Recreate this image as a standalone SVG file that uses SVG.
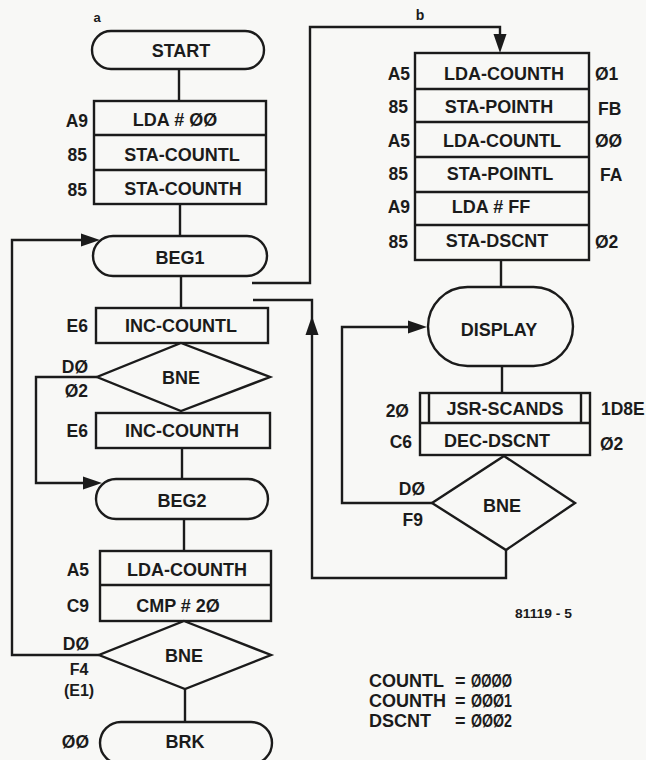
<svg xmlns="http://www.w3.org/2000/svg" xmlns:xlink="http://www.w3.org/1999/xlink" width="646" height="760" viewBox="0 0 646 760">
<style>
.s{fill:none;stroke:#1b1b1b;stroke-width:2.4}
.b{fill:#f8f8f6;stroke:#1b1b1b;stroke-width:2.4}
text{font-family:"Liberation Sans",Arial,sans-serif;font-weight:bold;fill:#1b1b1b}
.t{font-size:18px;text-anchor:middle}
.l{font-size:17.5px;text-anchor:end}
.r{font-size:17.5px;text-anchor:start}
.c{font-size:16px;text-anchor:middle}
.v{font-size:18px}
</style>
<defs>
<path id="ah" d="M0,0 L-19,-6.5 L-19,6.5 Z" fill="#1b1b1b"/>
</defs>
<rect width="646" height="760" fill="#f8f8f6"/>

<g id="connectors">
<path class="s" d="M179,69 V101"/>
<path class="s" d="M180,204 V236"/>
<path class="s" d="M181,276 V308"/>
<path class="s" d="M182,448 V479"/>
<path class="s" d="M184,519 V551"/>
<path class="s" d="M185,689 V722"/>
<path class="s" d="M97,377 H36 V483 H90"/>
<path class="s" d="M99,655 H12 V240 H88"/>
<path class="s" d="M252,283 H310 V27 H500 V40"/>
<path class="s" d="M501,260 V287"/>
<path class="s" d="M502,366 V393"/>
<path class="s" d="M432,503 H342 V327 H415"/>
<path class="s" d="M506,550 V578 H312 V300 H253"/>
<use xlink:href="#ah" transform="translate(100,240)"/>
<use xlink:href="#ah" transform="translate(102,483)"/>
<use xlink:href="#ah" transform="translate(500,53) rotate(90)"/>
<use xlink:href="#ah" transform="translate(312,316) rotate(-90)"/>
<use xlink:href="#ah" transform="translate(427,327)"/>
</g>

<text x="97" y="22" style="font-size:13px;text-anchor:middle">a</text>
<text x="420" y="20" style="font-size:14px;text-anchor:middle">b</text>

<g id="start">
<rect class="b" x="92" y="31" width="172" height="38" rx="19"/>
<text class="t" x="181" y="57">START</text>
</g>

<g id="init">
<rect class="b" x="94" y="101" width="172" height="103"/>
<path class="s" d="M94,135 H266 M94,170 H266"/>
<text class="t" x="175" y="126">LDA # ØØ</text>
<text class="t" x="182" y="161">STA-COUNTL</text>
<text class="t" x="183" y="195">STA-COUNTH</text>
<text class="l" x="88" y="127">A9</text>
<text class="l" x="87" y="161">85</text>
<text class="l" x="87" y="196">85</text>
</g>

<g id="beg1">
<rect class="b" x="93" y="236" width="174" height="40" rx="20"/>
<text class="t" x="180" y="264">BEG1</text>
</g>

<g id="inc-countl">
<rect class="b" x="96" y="308" width="172" height="35"/>
<text class="t" x="181" y="332">INC-COUNTL</text>
<text class="l" x="88" y="332">E6</text>
</g>

<g id="bne1">
<polygon class="b" points="181,343 270,377 181,411 97,377"/>
<text class="t" x="181" y="384">BNE</text>
<text class="l" x="88" y="373">DØ</text>
<text class="l" x="88" y="397">Ø2</text>
</g>

<g id="inc-counth">
<rect class="b" x="96" y="413" width="174" height="35"/>
<text class="t" x="182" y="437">INC-COUNTH</text>
<text class="l" x="88" y="437">E6</text>
</g>

<g id="beg2">
<rect class="b" x="96" y="479" width="172" height="40" rx="20"/>
<text class="t" x="182" y="507">BEG2</text>
</g>

<g id="compare">
<rect class="b" x="100" y="551" width="171" height="70"/>
<path class="s" d="M100,585 H271"/>
<text class="t" x="187" y="576">LDA-COUNTH</text>
<text class="t" x="178" y="612">CMP # 2Ø</text>
<text class="l" x="89" y="576">A5</text>
<text class="l" x="89" y="612">C9</text>
</g>

<g id="bne2">
<polygon class="b" points="184,621 271,655 185,689 99,655"/>
<text class="t" x="184" y="662">BNE</text>
<text class="l" x="89" y="650">DØ</text>
<text class="c" x="79" y="675">F4</text>
<text class="c" x="79" y="696">(E1)</text>
</g>

<g id="brk">
<rect class="b" x="100" y="722" width="172" height="42" rx="21"/>
<text class="t" x="185" y="748">BRK</text>
<text class="l" x="89" y="748">ØØ</text>
</g>

<g id="setup">
<rect class="b" x="415" y="53" width="174" height="207"/>
<path class="s" d="M415,89 H589 M415,122 H589 M415,157 H589 M415,192 H589 M415,225 H589"/>
<text class="t" x="504" y="80">LDA-COUNTH</text>
<text class="t" x="499" y="113">STA-POINTH</text>
<text class="t" x="502" y="147">LDA-COUNTL</text>
<text class="t" x="500" y="180">STA-POINTL</text>
<text class="t" x="491" y="213">LDA # FF</text>
<text class="t" x="497" y="247">STA-DSCNT</text>
<text class="l" x="410" y="80">A5</text>
<text class="l" x="408" y="113">85</text>
<text class="l" x="410" y="147">A5</text>
<text class="l" x="408" y="180">85</text>
<text class="l" x="410" y="213">A9</text>
<text class="l" x="408" y="248">85</text>
<text class="r" x="595" y="80">Ø1</text>
<text class="r" x="598" y="115">FB</text>
<text class="r" x="595" y="147">ØØ</text>
<text class="r" x="600" y="181">FA</text>
<text class="r" x="595" y="248">Ø2</text>
</g>

<g id="display">
<rect class="b" x="428" y="287" width="145" height="79" rx="39.5"/>
<text class="t" x="499" y="336">DISPLAY</text>
</g>

<g id="scan">
<rect class="b" x="420" y="393" width="170" height="62"/>
<path class="s" d="M420,423 H590 M429,393 V423 M581,393 V423"/>
<text class="t" x="505" y="415">JSR-SCANDS</text>
<text class="t" x="497" y="447">DEC-DSCNT</text>
<text class="l" x="409" y="417">2Ø</text>
<text class="l" x="412" y="448">C6</text>
<text class="r" x="601" y="415">1D8E</text>
<text class="r" x="600" y="450">Ø2</text>
</g>

<g id="bne3">
<polygon class="b" points="504,456 575,503 506,550 432,503"/>
<text class="t" x="502" y="512">BNE</text>
<text class="l" x="425" y="495">DØ</text>
<text class="l" x="423" y="526">F9</text>
</g>

<text x="515" y="618" style="font-size:12px" textLength="57" lengthAdjust="spacingAndGlyphs">81119 - 5</text>

<g id="legend">
<text class="v" x="369" y="687">COUNTL</text>
<text class="v" x="455" y="687">=</text>
<text class="v" x="471" y="687" textLength="41" lengthAdjust="spacingAndGlyphs">ØØØØ</text>
<text class="v" x="369" y="707">COUNTH</text>
<text class="v" x="455" y="707">=</text>
<text class="v" x="471" y="707" textLength="41" lengthAdjust="spacingAndGlyphs">ØØØ1</text>
<text class="v" x="369" y="727">DSCNT</text>
<text class="v" x="455" y="727">=</text>
<text class="v" x="471" y="727" textLength="41" lengthAdjust="spacingAndGlyphs">ØØØ2</text>
</g>
</svg>
